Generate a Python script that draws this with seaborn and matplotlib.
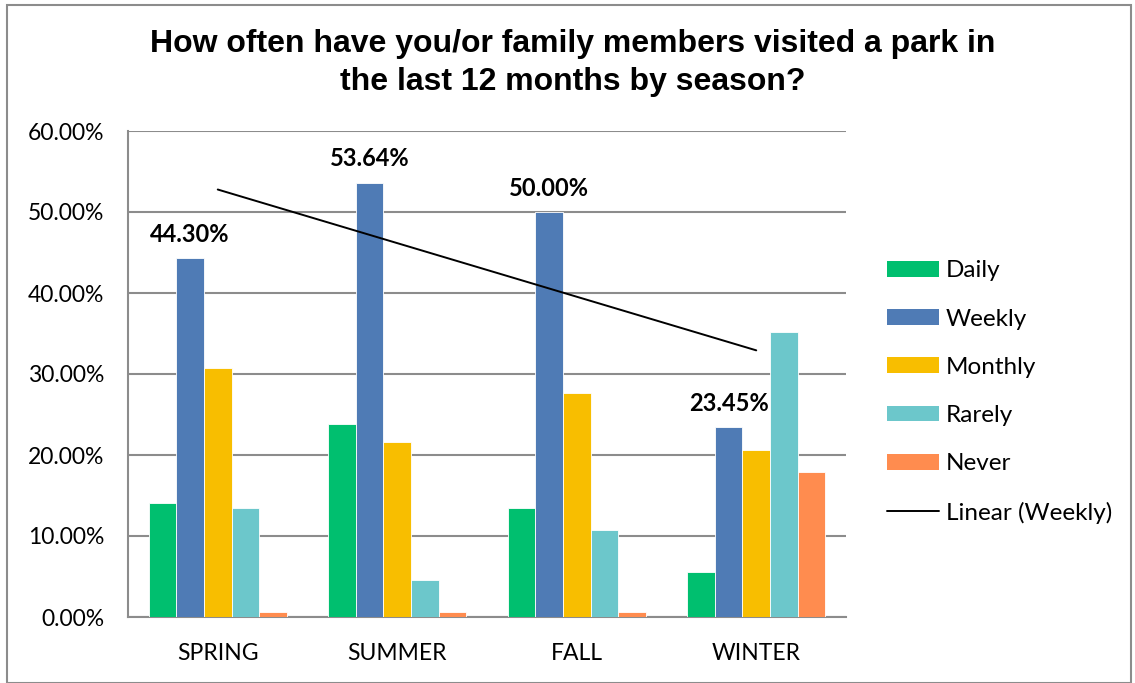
import numpy as np
import pandas as pd
import seaborn as sns
import matplotlib.pyplot as plt
from matplotlib.patches import Patch, Rectangle
from matplotlib.lines import Line2D

# values (percent)
seasons = ['SPRING', 'SUMMER', 'FALL', 'WINTER']
frequencies = ['Daily', 'Weekly', 'Monthly', 'Rarely', 'Never']
daily = [14.03, 23.8, 13.5, 5.5]
weekly = [44.30, 53.64, 50.00, 23.45]
monthly = [30.8, 21.6, 27.65, 20.6]
rarely = [13.4, 4.6, 10.7, 35.2]
never = [0.6, 0.66, 0.66, 17.9]
colors = ['#00BF6F', '#4F7BB5', '#F8BE00', '#6CC7CB', '#FF8C4F']

# long table for seaborn
series = [daily, weekly, monthly, rarely, never]
rows = []
for name, vals in zip(frequencies, series):
    for s, v in zip(seasons, vals):
        rows.append({'season': s, 'freq': name, 'value': v})
df = pd.DataFrame(rows)

sns.set_style('white')
plt.rcParams['font.family'] = ['Lato', 'DejaVu Sans']
plt.rcParams['text.color'] = 'black'
plt.rcParams['xtick.color'] = 'black'
plt.rcParams['ytick.color'] = 'black'

fig = plt.figure(figsize=(11.35, 6.83), dpi=100)
ax = fig.add_axes([128 / 1135, 66 / 683, 718 / 1135, 486 / 683])

sns.barplot(data=df, x='season', y='value', hue='freq', order=seasons,
            hue_order=frequencies, palette=colors, saturation=1, width=0.77,
            legend=False, ax=ax, zorder=3)
for bar in ax.patches:
    bar.set_edgecolor('white')
    bar.set_linewidth(0.6)

# labels on the weekly bars
ax.bar_label(ax.containers[1], labels=[f'{v:.2f}%' for v in weekly],
             padding=9, fontsize=17, fontweight='bold', color='black')

# linear trend of weekly, drawn at the category centres
xpos = np.arange(len(seasons))
fit = np.polyfit(xpos, weekly, 1)
ax.plot([xpos[0], xpos[-1]], np.polyval(fit, [xpos[0], xpos[-1]]),
        color='black', lw=1.4, zorder=4)

ax.set_xlim(-0.5, 3.5)
ax.set_ylim(0, 60)
ax.set_yticks(np.arange(0, 61, 10))
ax.set_yticklabels([f'{t:.2f}%' for t in np.arange(0, 61, 10)], fontsize=16.5)
ax.set_xticks(xpos)
ax.set_xticklabels(seasons, fontsize=16.5)
ax.set_xticks(np.arange(-0.5, 3.6, 1), minor=True)
ax.tick_params(axis='x', which='major', length=0, pad=19)
ax.tick_params(axis='x', which='minor', length=8, width=1.5, color='#8c8c8c')
ax.tick_params(axis='y', length=8, width=1.5, color='#8c8c8c', pad=9)
ax.set_xlabel('')
ax.set_ylabel('')
ax.yaxis.grid(True, color='#8c8c8c', lw=1.5, zorder=0)
ax.set_axisbelow(True)
for side in ['top', 'right']:
    ax.spines[side].set_visible(False)
for side in ['left', 'bottom']:
    ax.spines[side].set_color('#8c8c8c')
    ax.spines[side].set_linewidth(1.5)

fig.text(573 / 1135, 1 - 63 / 683,
         'How often have you/or family members visited a park in\nthe last 12 months by season?',
         ha='center', va='center', fontsize=23, fontweight='bold',
         family='Liberation Sans', color='black', linespacing=1.35)

handles = [Patch(facecolor=c, edgecolor='none') for c in colors]
handles.append(Line2D([0], [0], color='black', lw=1.4))
fig.legend(handles, frequencies + ['Linear (Weekly)'], loc='center left',
           bbox_to_anchor=(865 / 1135, 1 - 392 / 683), frameon=False,
           fontsize=17.5, handlelength=2.14, handleheight=0.62,
           handletextpad=0.29, labelspacing=1.12)

# chart border
fig.patches.append(Rectangle((7 / 1135, 0), 1124 / 1135, 1 - 5 / 683,
                             transform=fig.transFigure, fill=False,
                             edgecolor='#8c8c8c', lw=1.5))

fig.savefig('out.png', dpi=100)
